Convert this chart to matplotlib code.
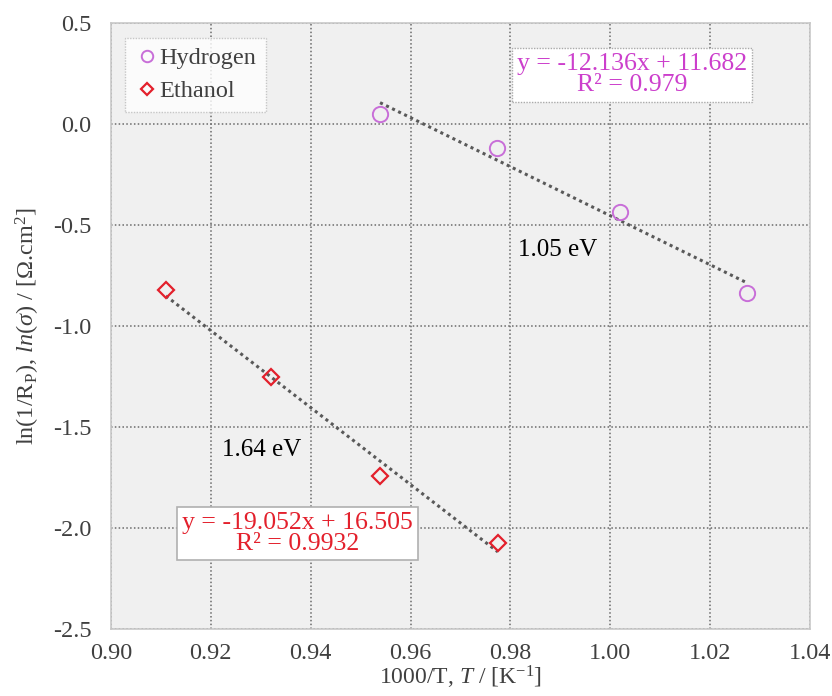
import matplotlib
matplotlib.use('Agg')
import matplotlib.pyplot as plt
import numpy as np

plt.rcParams['font.family'] = 'Liberation Serif'
plt.rcParams['mathtext.fontset'] = 'custom'
plt.rcParams['mathtext.rm'] = 'Liberation Serif'
plt.rcParams['mathtext.it'] = 'Liberation Serif:italic'

# data
h2_x = [0.9539, 0.9773, 1.0019, 1.0274]
h2_y = [0.049, -0.119, -0.436, -0.837]
eth_x = [0.9110, 0.9320, 0.9539, 0.9775]
eth_y = [-0.822, -1.252, -1.743, -2.074]
h2_fit = (-12.136, 11.682)
eth_fit = (-19.052, 16.505)
xticks = [0.90, 0.92, 0.94, 0.96, 0.98, 1.00, 1.02, 1.04]
yticks = [-2.5, -2.0, -1.5, -1.0, -0.5, 0.0, 0.5]

h2_col = '#c86ed8'
h2_txt = '#cc3fcc'
eth_col = '#e3202c'
fit_col = '#595959'
txt_col = '#404040'

fig = plt.figure(figsize=(8.32, 6.96), dpi=100)
ax = fig.add_axes([0.1334, 0.0963, 0.840, 0.8707])
ax.set_facecolor('#f0f0f0')

ax.set_xlim(0.90, 1.04)
ax.set_ylim(-2.5, 0.5)
ax.set_xticks(xticks)
ax.set_yticks(yticks)
ax.set_xticklabels(['%.2f' % v for v in xticks])
ax.set_yticklabels(['%.1f' % v for v in yticks])
ax.tick_params(length=0, labelsize=17.5, colors=txt_col)
ax.tick_params(axis='y', pad=14)
ax.tick_params(axis='x', pad=10)
ax.grid(True, linestyle=(0, (1, 1.5)), color='#6a6a6a', linewidth=1.1)
ax.set_axisbelow(True)
for s in ax.spines.values():
    s.set_color('#c8c8c8')
    s.set_linewidth(1.2)

# trendlines
xs = np.array([h2_x[0], h2_x[-1]])
ax.plot(xs, h2_fit[0] * xs + h2_fit[1], linestyle=(0, (1, 1.2)), color=fit_col, lw=2.2, zorder=2)
xs = np.array([eth_x[0], eth_x[-1]])
ax.plot(xs, eth_fit[0] * xs + eth_fit[1], linestyle=(0, (1, 1.2)), color=fit_col, lw=2.2, zorder=2)

ax.plot(h2_x, h2_y, 'o', ms=11, mfc='none', mec=h2_col, mew=1.4, label='Hydrogen', zorder=3)
ax.plot(eth_x, eth_y, 'D', ms=8.5, mfc='none', mec=eth_col, mew=1.6, label='Ethanol', zorder=3)

leg = ax.legend(loc='upper left', bbox_to_anchor=(0.02, 0.976), fontsize=17.5, frameon=True,
                fancybox=False, handletextpad=0.0, handlelength=1.0, borderpad=0.4,
                borderaxespad=0.0, labelspacing=0.45, labelcolor=txt_col, markerscale=0.75)
leg.get_frame().set_edgecolor('#bbbbbb')
leg.get_frame().set_linestyle((0, (1, 1)))
leg.get_frame().set_linewidth(1.0)

ax.text(1.0044, 0.243, 'y = -12.136x + 11.682\nR² = 0.979', color=h2_txt, fontsize=18.5,
        ha='center', va='center', linespacing=0.95,
        bbox=dict(boxstyle='square,pad=0.2', fc='white', ec='#aaaaaa', ls=(0, (1, 1)), lw=1.0))
ax.text(0.9373, -2.027, 'y = -19.052x + 16.505\nR² = 0.9932', color=eth_col, fontsize=18.5,
        ha='center', va='center', linespacing=0.95,
        bbox=dict(boxstyle='square,pad=0.2', fc='white', ec='#b0b0b0', lw=1.2))

ax.text(0.9895, -0.624, '1.05 eV', fontsize=18, color='black', ha='center', va='center')
ax.text(0.9302, -1.614, '1.64 eV', fontsize=18, color='black', ha='center', va='center')

ax.set_xlabel('1000/T, $T$ / [K$^{-1}$]', fontsize=17, color=txt_col, labelpad=0)
ax.set_ylabel(r'ln(1/R$_{\mathrm{P}}$), $ln(\sigma)$ / [Ω.cm$^2$]', fontsize=17.5, color=txt_col, labelpad=8)

fig.savefig('out.png', dpi=100)
